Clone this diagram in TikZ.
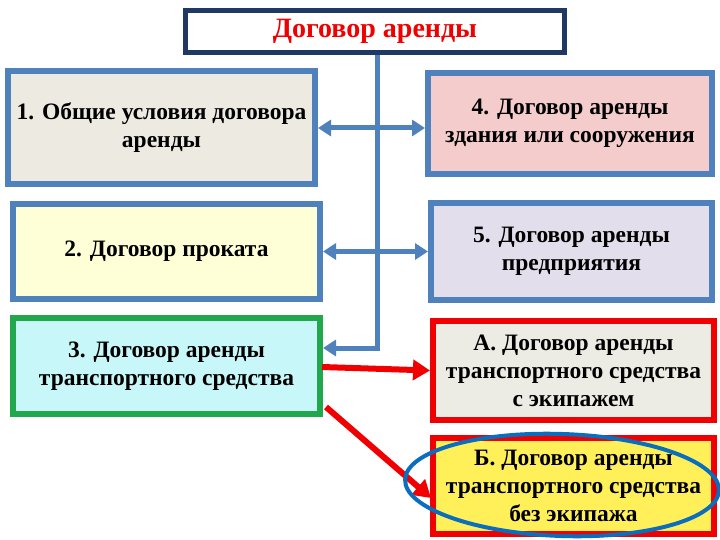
\documentclass[tikz,border=0pt]{standalone}
\usepackage{fontspec}
\setmainfont{Liberation Serif}
\usetikzlibrary{arrows.meta,calc}
\definecolor{bblue}{RGB}{79,129,189}
\definecolor{navy}{RGB}{31,56,100}
\definecolor{bgreen}{RGB}{34,168,76}
\definecolor{bred}{RGB}{240,0,0}
\definecolor{eblue}{RGB}{10,110,190}
\definecolor{f1}{RGB}{237,234,225}
\definecolor{f2}{RGB}{255,255,215}
\definecolor{f3}{RGB}{200,247,250}
\definecolor{f4}{RGB}{244,204,204}
\definecolor{f5}{RGB}{226,222,236}
\definecolor{fA}{RGB}{237,236,228}
\definecolor{fB}{RGB}{255,240,90}
\tikzset{
  box/.style={rectangle, line width=6pt, align=center, inner sep=0pt,
    font=\fontsize{23.5}{28}\selectfont\bfseries},
  barrow/.style={line width=5pt, draw=bblue, {Triangle[width=16pt,length=13pt]}-{Triangle[width=16pt,length=13pt]}},
  sarrow/.style={line width=5pt, draw=bblue, -{Triangle[width=16pt,length=13pt]}},
  rarrow/.style={line width=6pt, draw=bred, -{Triangle[width=20pt,length=17pt]}},
}
\begin{document}
\begin{tikzpicture}[x=1pt,y=-1pt]
\useasboundingbox (0,0) rectangle (720,540);
\fill[white] (0,0) rectangle (720,540);
% title
\node[box, draw=navy, line width=5pt, fill=white, minimum width=379pt, minimum height=42pt,
  text=bred, font=\fontsize{28}{30}\selectfont\bfseries] (title) at (375,31.5) {Договор аренды};
% left column
\node[box, draw=bblue, fill=f1, minimum width=307pt, minimum height=113pt] (b1) at (161.5,127.5)
  {1. Общие условия договора\\аренды};
\node[box, draw=bblue, fill=f2, minimum width=307pt, minimum height=95pt] (b2) at (166.5,251.5)
  {2. Договор проката};
\node[box, draw=bgreen, fill=f3, minimum width=307pt, minimum height=96pt] (b3) at (166.5,366)
  {3. Договор аренды\\транспортного средства};
% right column
\node[box, draw=bblue, fill=f4, minimum width=284pt, minimum height=101pt] (b4) at (570,123.5)
  {4. Договор аренды\\здания или сооружения};
\node[box, draw=bblue, fill=f5, minimum width=281pt, minimum height=97pt] (b5) at (571.5,251.5)
  {5. Договор аренды\\предприятия};
\node[box, draw=bred, fill=fA, minimum width=281pt, minimum height=99pt] (bA) at (573.5,370.5)
  {А. Договор аренды\\транспортного средства\\с экипажем};
\node[box, draw=bred, fill=fB, minimum width=281pt, minimum height=96pt] (bB) at (573.5,486)
  {Б. Договор аренды\\транспортного средства\\без экипажа};
% connectors
\coordinate (bend) at (377,348);
\draw[line width=5pt, draw=bblue] (title.south -| bend) -- (bend);
\draw[sarrow] ($(bend)+(2.5,0)$) -- (b3.east |- bend);
\draw[barrow] (b1.east |- 0,128) -- (b4.west |- 0,128);
\draw[barrow] (b2.east) -- (b5.west);
\coordinate (r1s) at (322,367);
\coordinate (r2s) at (326,407);
\coordinate (r2e) at (431,498);
\draw[rarrow] (r1s) -- (bA.west);
\draw[rarrow] (r2s) -- (r2e);
% ellipse highlight
\draw[eblue, line width=4pt, rotate around={-2:(562,485)}] (562,485) ellipse [x radius=157, y radius=51];
\end{tikzpicture}
\end{document}
